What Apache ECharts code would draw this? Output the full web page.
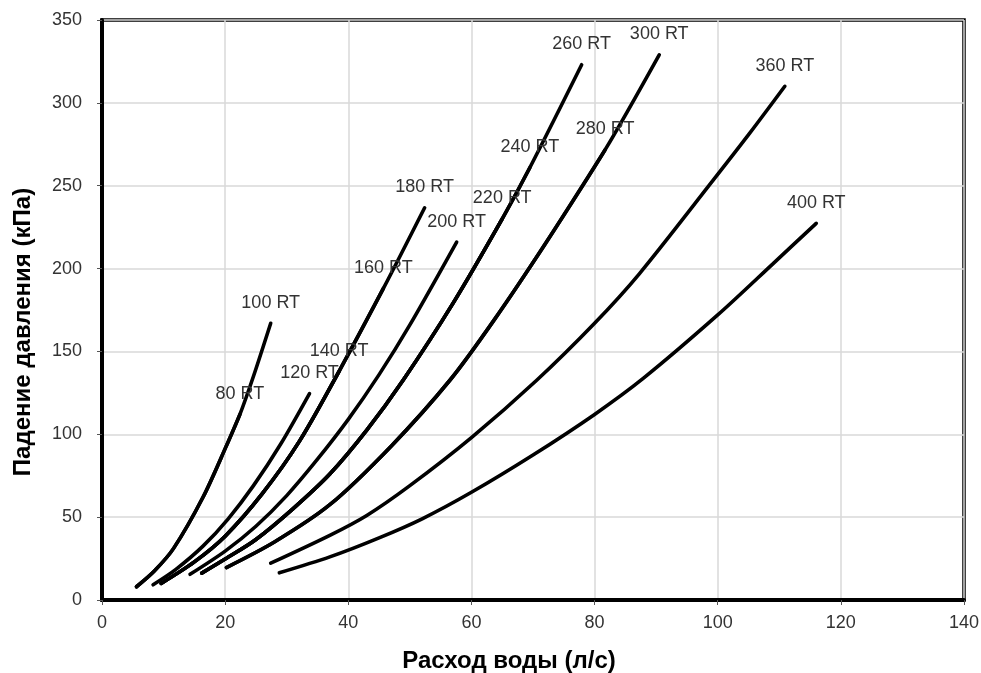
<!DOCTYPE html>
<html>
<head>
<meta charset="utf-8">
<script src="https://cdn.jsdelivr.net/npm/echarts@6/dist/echarts.min.js"></script>
<style>
  html, body { margin: 0; padding: 0; background: #fff; }
  #chart { width: 981px; height: 673px; }
</style>
</head>
<body>
<div id="chart"></div>
<script>
// axis ticks
var xTicks = [0, 20, 40, 60, 80, 100, 120, 140];
var yTicks = [0, 50, 100, 150, 200, 250, 300, 350];

// расход (л/с) и падение давления (кПа), по моделям
var flow80 = [5.6, 8.5, 11.6, 16.4, 20.2, 22.4];
var drop80 = [8, 17.5, 31, 62, 93, 112];
var flow100 = [5.6, 8.5, 11.6, 16.4, 20.2, 22.4, 24.6, 27.4];
var drop100 = [8, 17.5, 31, 62, 93, 112, 135, 167];
var flow120 = [8.3, 12, 16.4, 20.5, 24.6, 29, 33.7];
var drop120 = [9.2, 18.5, 32.5, 49, 69, 94, 124.6];
var flow140 = [9.6, 15, 20, 26, 32.1, 38.5];
var drop140 = [10, 23, 38.5, 64, 96, 138];
var flow160 = [9.6, 15, 20, 26, 32.1, 38.5, 45.7];
var drop160 = [10, 23, 38.5, 64, 96, 138, 188];
var flow180 = [9.6, 15, 20, 26, 32.1, 38.5, 45.7, 52.4];
var drop180 = [10, 23, 38.5, 64, 96, 138, 188, 236.7];
var flow200 = [14.3, 20, 25, 30, 34.9, 40, 45, 50, 57.6];
var drop200 = [15.5, 29.5, 44.5, 63, 84.5, 109, 136, 166, 216];
var flow220 = [16.2, 20, 25, 31, 37, 43, 48.9, 57, 65];
var drop220 = [16.2, 24.7, 36.5, 55, 76, 102.5, 132.6, 179, 230];
var flow240 = [16.2, 20, 25, 31, 37, 43, 48.9, 57, 65, 69.5];
var drop240 = [16.2, 24.7, 36.5, 55, 76, 102.5, 132.6, 179, 230, 261];
var flow260 = [16.2, 20, 25, 31, 37, 43, 48.9, 57, 65, 69.5, 77.9];
var drop260 = [16.2, 24.7, 36.5, 55, 76, 102.5, 132.6, 179, 230, 261, 323];
var flow280 = [20.2, 28, 37, 47, 56.5, 63.5, 72, 81.7];
var drop280 = [19.6, 35, 57.5, 93, 132.6, 168, 215, 271.6];
var flow300 = [20.2, 28, 37, 47, 56.5, 63.5, 72, 81.7, 90.5];
var drop300 = [19.6, 35, 57.5, 93, 132.6, 168, 215, 271.6, 329];
var flow360 = [27.4, 37, 43, 50, 60, 70.6, 80, 87.3, 99.3, 105.2, 110.9];
var drop360 = [22.2, 39, 51, 69, 98, 132.6, 167, 197, 253.5, 281.7, 310];
var flow400 = [28.8, 37, 45, 52, 60, 70, 80, 88, 100, 109, 116];
var drop400 = [16.4, 26, 37.5, 49, 65, 87.5, 112, 134, 172, 203, 227.3];

var models = [
  ["80 RT", flow80, drop80],
  ["100 RT", flow100, drop100],
  ["120 RT", flow120, drop120],
  ["140 RT", flow140, drop140],
  ["160 RT", flow160, drop160],
  ["180 RT", flow180, drop180],
  ["200 RT", flow200, drop200],
  ["220 RT", flow220, drop220],
  ["240 RT", flow240, drop240],
  ["260 RT", flow260, drop260],
  ["280 RT", flow280, drop280],
  ["300 RT", flow300, drop300],
  ["360 RT", flow360, drop360],
  ["400 RT", flow400, drop400],
];

var labelFont = "Arial, 'Liberation Sans', sans-serif";

function buildSeries(name, xs, ys) {
  var data = [];
  for (var i = 0; i < xs.length; i++) {
    var item = { value: [xs[i], ys[i]] };
    // подпись модели над концом кривой
    if (i === xs.length - 1) {
      item.label = {
        show: true,
        position: "top",
        distance: 11,
        formatter: name,
        color: "#333",
        fontFamily: labelFont,
        fontSize: 18,
      };
    }
    data.push(item);
  }
  return {
    name: name,
    type: "line",
    data: data,
    smooth: 0.3,
    symbol: "circle",
    symbolSize: 1,
    showSymbol: true,
    itemStyle: { color: "#000" },
    lineStyle: { color: "#000", width: 3.6, cap: "round" },
    label: { show: false },
  };
}

var series = models.map(function (m) {
  return buildSeries(m[0], m[1], m[2]);
});

var myChart = echarts.init(document.getElementById("chart"));
myChart.setOption({
  animation: false,
  grid: {
    left: 102,
    right: 17,
    top: 20,
    bottom: 73,
    show: true,
    borderColor: "#000",
    borderWidth: 3.5,
    outerBoundsMode: "none",
  },
  xAxis: {
    type: "value",
    min: xTicks[0],
    max: xTicks[xTicks.length - 1],
    interval: xTicks[1] - xTicks[0],
    axisLine: { show: true, lineStyle: { color: "#000", width: 4 } },
    axisTick: { show: true, length: 5, lineStyle: { color: "#555" } },
    axisLabel: {
      color: "#333",
      fontFamily: labelFont,
      fontSize: 18,
      margin: 14,
    },
    splitLine: { show: true, lineStyle: { color: "#d9d9d9", width: 1.5 } },
  },
  yAxis: {
    type: "value",
    min: yTicks[0],
    max: yTicks[yTicks.length - 1],
    interval: yTicks[1] - yTicks[0],
    axisLine: { show: true, lineStyle: { color: "#000", width: 4 } },
    axisTick: { show: true, length: 5, lineStyle: { color: "#555" } },
    axisLabel: {
      color: "#333",
      fontFamily: labelFont,
      fontSize: 18,
      margin: 20,
    },
    splitLine: { show: true, lineStyle: { color: "#d9d9d9", width: 1.5 } },
  },
  graphic: [
    {
      type: "text",
      x: 509,
      y: 661,
      style: {
        text: "Расход воды (л/с)",
        font: "bold 24px Arial, 'Liberation Sans', sans-serif",
        fill: "#000",
        textAlign: "center",
        textVerticalAlign: "middle",
      },
    },
    {
      type: "text",
      x: 23,
      y: 332,
      rotation: Math.PI / 2,
      style: {
        text: "Падение давления (кПа)",
        font: "bold 24px Arial, 'Liberation Sans', sans-serif",
        fill: "#000",
        textAlign: "center",
        textVerticalAlign: "middle",
      },
    },
  ],
  series: series,
});
</script>
</body>
</html>
